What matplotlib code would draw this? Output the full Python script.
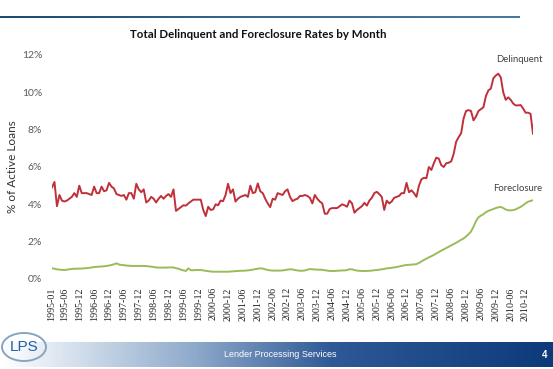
import numpy as np
import pandas as pd
import matplotlib
matplotlib.use("Agg")
import matplotlib.pyplot as plt
from matplotlib.patches import Ellipse

# monthly rates, 1995-01 .. 2011-03 (% of active loans)
start_month = "1995-01"
delinquent = [
    4.9, 5.2, 3.9, 4.5, 4.2, 4.15, 4.2, 4.3, 4.4, 4.6, 4.4, 5.0,
    4.6, 4.6, 4.6, 4.55, 4.5, 4.95, 4.6, 4.6, 4.95, 4.7, 4.75, 5.15,
    4.95, 4.85, 4.55, 4.5, 4.45, 4.5, 4.25, 4.6, 4.6, 4.3, 5.1, 4.8,
    4.65, 4.8, 4.1, 4.2, 4.4, 4.3, 4.1, 4.3, 4.45, 4.3, 4.45, 4.55,
    4.4, 4.8, 3.65, 3.75, 3.85, 3.95, 3.93, 4.05, 4.15, 4.25, 4.25, 4.25,
    4.25, 3.7, 3.37, 3.87, 3.7, 3.73, 4.0, 3.95, 4.2, 4.17, 4.5, 5.1,
    4.6, 4.8, 4.15, 4.3, 4.4, 4.45, 4.5, 4.4, 5.0, 4.6, 4.65, 5.12,
    4.7, 4.6, 4.3, 4.05, 3.85, 4.3, 4.25, 4.6, 4.55, 4.5, 4.7, 4.8,
    4.4, 4.17, 4.25, 4.3, 4.45, 4.45, 4.5, 4.45, 4.35, 4.05, 4.5, 4.3,
    4.15, 4.05, 3.5, 3.5, 3.75, 3.8, 3.8, 3.8, 3.9, 4.0, 3.95, 3.87,
    4.2, 4.05, 3.55, 3.7, 3.8, 3.9, 4.08, 3.93, 4.2, 4.35, 4.6, 4.67,
    4.55, 4.4, 3.7, 4.2, 4.05, 4.15, 4.35, 4.4, 4.45, 4.6, 4.6, 5.15,
    4.65, 4.75, 4.6, 4.4, 5.0, 5.34, 5.42, 5.4, 6.0, 5.84, 6.2, 6.5,
    6.45, 6.1, 6.0, 6.2, 6.23, 6.3, 6.7, 7.35, 7.6, 7.8, 8.6, 9.0,
    9.05, 9.0, 8.5, 8.7, 9.0, 9.1, 9.2, 9.8, 10.1, 10.2, 10.75, 10.9,
    11.0, 10.8, 10.0, 9.6, 9.73, 9.6, 9.4, 9.3, 9.3, 9.32, 9.14, 8.91,
    8.91, 8.85, 7.78,
]
foreclosure = [
    0.57, 0.55, 0.52, 0.5, 0.49, 0.48, 0.5, 0.52, 0.54, 0.55, 0.55, 0.56,
    0.56, 0.57, 0.58, 0.6, 0.62, 0.64, 0.65, 0.66, 0.67, 0.68, 0.7, 0.72,
    0.75, 0.79, 0.84, 0.78, 0.75, 0.74, 0.72, 0.71, 0.7, 0.7, 0.7, 0.7,
    0.7, 0.7, 0.69, 0.68, 0.66, 0.64, 0.62, 0.61, 0.61, 0.61, 0.61, 0.62,
    0.62, 0.62, 0.58, 0.55, 0.5, 0.46, 0.43, 0.57, 0.47, 0.47, 0.48, 0.48,
    0.48, 0.46, 0.44, 0.42, 0.4, 0.39, 0.39, 0.39, 0.39, 0.39, 0.39, 0.39,
    0.4, 0.41, 0.42, 0.43, 0.44, 0.44, 0.45, 0.46, 0.48, 0.5, 0.53, 0.55,
    0.57, 0.56, 0.52, 0.48, 0.46, 0.45, 0.45, 0.45, 0.45, 0.46, 0.48, 0.5,
    0.52, 0.51, 0.48, 0.46, 0.44, 0.44, 0.46, 0.5, 0.53, 0.52, 0.51, 0.5,
    0.5, 0.49, 0.47, 0.45, 0.43, 0.43, 0.43, 0.44, 0.45, 0.46, 0.46, 0.48,
    0.52, 0.52, 0.48, 0.45, 0.44, 0.43, 0.43, 0.43, 0.44, 0.45, 0.47, 0.48,
    0.5, 0.52, 0.54, 0.57, 0.58, 0.6, 0.62, 0.64, 0.67, 0.7, 0.73, 0.75,
    0.76, 0.77, 0.78, 0.8, 0.86, 0.94, 1.02, 1.09, 1.16, 1.22, 1.29, 1.37,
    1.44, 1.52, 1.59, 1.66, 1.73, 1.8, 1.87, 1.94, 2.02, 2.1, 2.17, 2.28,
    2.4, 2.54, 2.8, 3.1, 3.3, 3.4, 3.47, 3.58, 3.65, 3.7, 3.75, 3.8,
    3.84, 3.86, 3.8, 3.72, 3.68, 3.68, 3.69, 3.73, 3.8, 3.86, 3.95, 4.05,
    4.14, 4.18, 4.22,
]
months = pd.period_range(start_month, periods=len(delinquent), freq="M")
tick_idx = [0] + list(range(5, len(months), 6))
y_ticks = [0, 2, 4, 6, 8, 10, 12]

W, H = 553, 369
fig = plt.figure(figsize=(W / 100, H / 100), dpi=100)

# top rule
line_ax = fig.add_axes([0, 1 - 18 / H, 520 / W, 2 / H])
grad = np.linspace(0, 1, 256)[None, :]
line_ax.imshow(grad, aspect="auto", cmap=matplotlib.colors.LinearSegmentedColormap.from_list(
    "rule", ["#1f4a70", "#3a6690", "#4a7aa0"]), extent=[0, 1, 0, 1])
line_ax.set_xlim(0, 1)
line_ax.axis("off")

# main chart
ax = fig.add_axes([52 / W, (H - 279) / H, (533 - 52) / W, 224 / H])
x = np.arange(len(months))
ax.plot(x, delinquent, color="#c0303a", lw=1.4)
ax.plot(x, foreclosure, color="#9bbb59", lw=1.4)
ax.set_xlim(0, len(months) - 1)
ax.set_ylim(0, 12)
ax.set_yticks(y_ticks)
ax.set_yticklabels([f"{v}%" for v in y_ticks], fontsize=7.5, color="#595959", family="Lato")
ax.set_xticks(tick_idx)
ax.set_xticklabels([months[i].strftime("%Y-%m") for i in tick_idx], rotation=90,
                   fontsize=7.2, family="Liberation Serif", color="#222222")
ax.tick_params(axis="x", length=0, pad=6)
ax.tick_params(axis="y", length=0, pad=7)
for s in ax.spines.values():
    s.set_visible(False)
ax.set_ylabel("% of Active Loans", fontsize=8.5, family="Lato", color="#333333")
ax.yaxis.set_label_coords(-34 / (533 - 52), 0.5)

ax.text(len(months) + 2.8, 11.75, "Delinquent", fontsize=6.8, family="Lato", color="#404040",
        ha="right", va="center")
ax.text(len(months) + 2.8, 4.85, "Foreclosure", fontsize=6.8, family="Lato", color="#404040",
        ha="right", va="center")

fig.text(258 / W, 1 - 35 / H, "Total Delinquent and Foreclosure Rates by Month",
         fontsize=8.3, family="Lato", weight="bold", ha="center", va="center", color="#111111")

# footer band
foot = fig.add_axes([0, 2 / H, 1, 25 / H])
cmap = matplotlib.colors.LinearSegmentedColormap.from_list(
    "foot", [(0, "#ffffff"), (0.1, "#dfe8f2"), (0.35, "#8eaacb"), (0.6, "#2f5996"), (1, "#0d3a7a")])
foot.imshow(grad, aspect="auto", cmap=cmap, extent=[0, 1, 0, 1])
foot.set_xlim(0, 1)
foot.set_ylim(0, 1)
foot.axis("off")
foot.text(280 / W, 0.5, "Lender Processing Services", color="white", fontsize=6.5,
          family="Liberation Sans", ha="center", va="center")
foot.text(545 / W, 0.5, "4", color="white", fontsize=7, weight="bold",
          family="Liberation Sans", ha="center", va="center")

# logo
logo = fig.add_axes([0, 0, 60 / W, 45 / H])
logo.set_xlim(0, 60)
logo.set_ylim(0, 45)
logo.axis("off")
logo.add_patch(Ellipse((24, 22), 44, 28, fill=False, ec="#8aa4c0", lw=1.4))
logo.text(24, 22, "LPS", color="#1f5fa8", fontsize=11, family="Liberation Sans",
          ha="center", va="center")

fig.savefig("out.png", dpi=100)
